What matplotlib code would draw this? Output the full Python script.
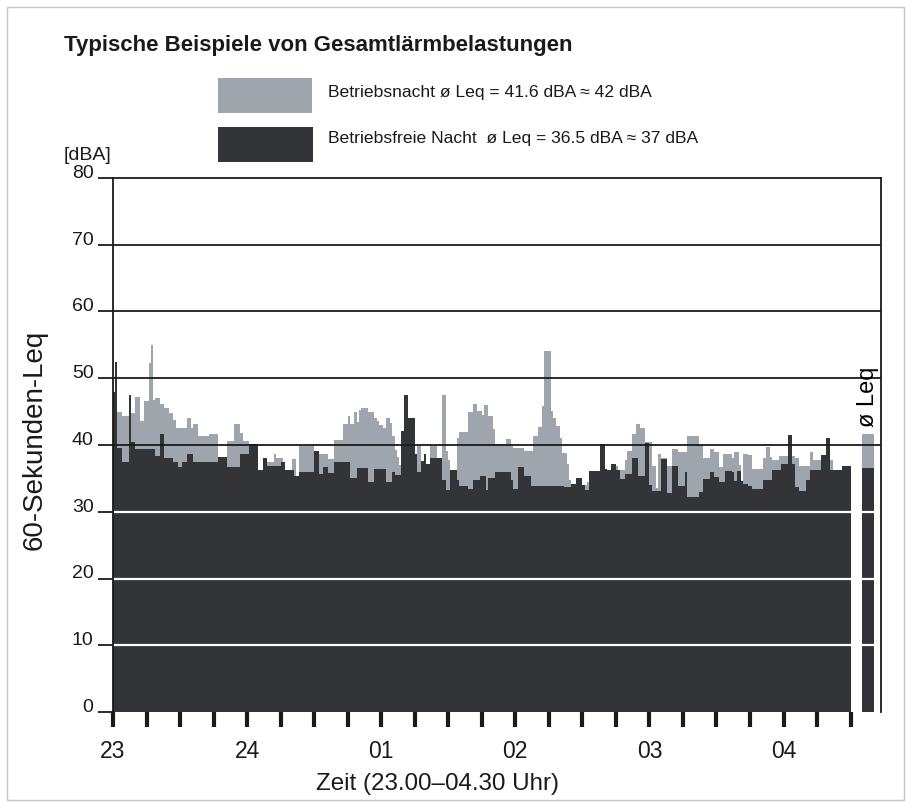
import matplotlib
matplotlib.use("Agg")
import matplotlib.pyplot as plt
from matplotlib.patches import Rectangle

plt.rcParams['font.family'] = ['Liberation Sans', 'DejaVu Sans']

# 60-second Leq: minutes after 23:00 where a level starts
night_edges = [0, 1, 4, 7, 10, 12, 14, 16, 17, 18, 19, 21, 23, 25, 27, 28, 33, 35, 36, 38,
               43, 47, 51, 54, 57, 58, 61, 65, 67, 72, 73, 76, 80, 82, 83, 90, 92, 96, 99, 103,
               105, 106, 108, 109, 110, 111, 114, 117, 118, 119, 121, 122, 124, 125, 126, 127,
               128, 130, 136, 138, 142, 145, 147, 149, 150, 151, 154, 155, 159, 161, 163, 165,
               166, 168, 170, 171, 176, 178, 179, 184, 188, 190, 192, 193, 196, 197, 198, 200,
               201, 203, 204, 205, 212, 214, 223, 226, 229, 230, 232, 234, 236, 238, 241, 243,
               244, 245, 248, 250, 253, 257, 262, 264, 267, 269, 271, 273, 277, 278, 280, 281,
               282, 284, 286, 291, 292, 294, 295, 298, 305, 307, 312, 313, 317, 321, 322, 330]
night_values = [44, 45, 44.3, 44.8, 47.2, 43.6, 46.6, 52.3, 55, 46.7, 47, 46.2, 45.5, 44.8, 43.8,
                42.6, 44, 42.6, 43.2, 41.3, 41.7, 37.5, 40.6, 43.1, 41.8, 40.6, 39, 36, 37.5, 38.7,
                38, 36, 37.9, 35, 39.8, 38, 38.7, 37.9, 40.7, 43.1, 44.3, 43.1, 45, 43.5, 45.2,
                45.6, 45, 44, 43.6, 43, 42.5, 44.1, 43.3, 41.3, 39.2, 38.2, 37, 38, 39.8, 37,
                39.8, 38, 47.5, 39.1, 37.8, 36, 41, 42, 44.9, 46.2, 45.1, 44.5, 46, 44.3, 42.4,
                40.2, 40.9, 39.8, 39.5, 39.1, 41.4, 42.7, 45.9, 54.1, 45.1, 44, 42.9, 41, 38.8,
                37.1, 34.8, 34, 34.5, 36, 36.8, 36.2, 37.8, 39.1, 41.7, 43.1, 42.5, 40.5, 36.9,
                33.5, 38.6, 38, 36.9, 39.4, 38.9, 41.3, 40, 38.1, 39.4, 38.9, 36.7, 38.7, 38, 39,
                37, 34.6, 38.7, 38.5, 36.4, 38, 39.7, 38.2, 37.7, 38.3, 38, 36.9, 38.9, 37.7, 38,
                37.7, 36]

quiet_edges = [0, 1, 2, 4, 7, 8, 10, 19, 21, 23, 27, 29, 31, 33, 36, 47, 51, 57, 61, 65, 67, 69,
               75, 77, 81, 83, 90, 92, 94, 96, 99, 106, 109, 114, 117, 122, 125, 126, 129, 130,
               132, 135, 136, 138, 139, 140, 142, 147, 149, 151, 154, 155, 159, 161, 164, 165,
               167, 168, 171, 178, 179, 181, 184, 187, 202, 205, 207, 210, 211, 213, 218, 220,
               221, 223, 225, 227, 229, 232, 235, 238, 240, 241, 245, 248, 250, 253, 256, 257,
               262, 264, 267, 269, 271, 274, 277, 278, 279, 281, 282, 284, 286, 291, 295, 299,
               302, 304, 305, 307, 310, 312, 317, 319, 321, 322, 326, 330]
quiet_values = [48, 52.5, 39.5, 37.5, 47.5, 40.4, 39.4, 38.4, 41.6, 38, 37.5, 36.7, 37.5, 38.7,
                37.5, 38.2, 36.7, 38.7, 40.2, 36.3, 38, 36.8, 37.5, 36.2, 35.3, 36, 39.1, 35.6,
                36.7, 35.8, 37.5, 35, 36.6, 34.5, 36.4, 34.4, 36, 35.5, 42.1, 47.5, 44, 38.7, 36,
                37.6, 38.6, 37.2, 38.1, 34.7, 33.3, 36.3, 34.7, 33.9, 33.4, 34.7, 35.3, 35.4,
                33.2, 35.1, 36, 34.7, 33.4, 36.7, 35.4, 33.9, 33.7, 34.1, 35, 34, 33.3, 36.1,
                40.2, 36.4, 36.3, 37.1, 36.3, 34.9, 35.6, 38, 35.3, 40.3, 34, 33.1, 37.9, 32.8,
                36.8, 33.9, 36, 32.2, 33, 34.9, 36, 35.2, 34.4, 36.1, 35.9, 34.6, 36.1, 34.6,
                34.1, 33.8, 33.4, 34.8, 36.2, 37.2, 41.5, 37.2, 33.7, 33.1, 34.7, 36.2, 38.5,
                41.1, 36.2, 36.3, 36.9]

mean_night = 41.6
mean_quiet = 36.5

hour_labels = ['23', '24', '01', '02', '03', '04']

LIGHT = '#9fa5ac'
DARK = '#333438'
W, H = 911, 807


def fig_rect(x0, y0, x1, y1, **kw):
    """Rectangle given in pixel coords (top-left origin)."""
    return Rectangle((x0 / W, 1 - y1 / H), (x1 - x0) / W, (y1 - y0) / H,
                     transform=fig.transFigure, **kw)


fig = plt.figure(figsize=(W / 100, H / 100), dpi=100)
fig.patch.set_facecolor('white')

# outer frame
fig.add_artist(fig_rect(7, 7, 904, 800, fill=False, edgecolor='#c4c4c4', lw=1))

ax = fig.add_axes([113 / W, (H - 712) / H, (881 - 113) / W, (712 - 178) / H])
ax.set_xlim(0, (881 - 113) / 2.235)
ax.set_ylim(0, 80)

ax.stairs(night_values, night_edges, baseline=0, fill=True, color=LIGHT, zorder=1)
ax.stairs(quiet_values, quiet_edges, baseline=0, fill=True, color=DARK, zorder=2)

# mean bars
x_mean = (868 - 113) / 2.235
ax.bar(x_mean, mean_quiet, width=5.4, color=DARK, zorder=2)
ax.bar(x_mean, mean_night - mean_quiet, bottom=mean_quiet, width=5.4, color=LIGHT, zorder=2)
ax.text(x_mean, 42.7, 'ø Leq', rotation=90, ha='center', va='bottom', fontsize=17, zorder=4)

for y in (40, 50, 60, 70):
    ax.axhline(y, color='#1a1a1a', lw=1.3, zorder=3)
for y in (10, 20, 30):
    ax.axhline(y, color='white', lw=1.6, zorder=3)

for s in ('left', 'top', 'right'):
    ax.spines[s].set_color('#1a1a1a')
    ax.spines[s].set_linewidth(1.3)
    ax.spines[s].set_zorder(5)
ax.spines['bottom'].set_visible(False)

ax.set_yticks(range(0, 81, 10))
ax.tick_params(axis='y', direction='out', length=11, width=1.3, pad=3,
               labelsize=14, colors='#1a1a1a')
for lab in ax.get_yticklabels():
    lab.set_verticalalignment('baseline')

xt = list(range(0, 331, 15))
ax.set_xticks(xt)
ax.set_xticklabels([hour_labels[t // 60] if t % 60 == 0 else '' for t in xt])
ax.tick_params(axis='x', direction='out', length=11, width=3, pad=9,
               labelsize=16.5, colors='#1a1a1a')

fig.text(35 / W, 1 - 440 / H, '60-Sekunden-Leq', rotation=90, ha='center', va='center',
         fontsize=20, color='#1a1a1a')
fig.text(438 / W, 1 - 784 / H, 'Zeit (23.00–04.30 Uhr)', ha='center', va='center',
         fontsize=17.4, color='#1a1a1a')

fig.text(64 / W, 1 - 45 / H, 'Typische Beispiele von Gesamtlärmbelastungen',
         ha='left', va='center', fontsize=16, fontweight='bold', color='#1a1a1a')
fig.text(64 / W, 1 - 155 / H, '[dBA]', ha='left', va='center', fontsize=14, color='#1a1a1a')

# legend
fig.add_artist(fig_rect(218, 78, 312, 113, color=LIGHT, lw=0))
fig.add_artist(fig_rect(218, 127, 313, 162, color=DARK, lw=0))
fig.text(328 / W, 1 - 92 / H, 'Betriebsnacht ø Leq = 41.6 dBA ≈ 42 dBA',
         ha='left', va='center', fontsize=12.6, color='#1a1a1a')
fig.text(328 / W, 1 - 139 / H, 'Betriebsfreie Nacht  ø Leq = 36.5 dBA ≈ 37 dBA',
         ha='left', va='center', fontsize=12.6, color='#1a1a1a')

fig.savefig('out.png', dpi=100)
